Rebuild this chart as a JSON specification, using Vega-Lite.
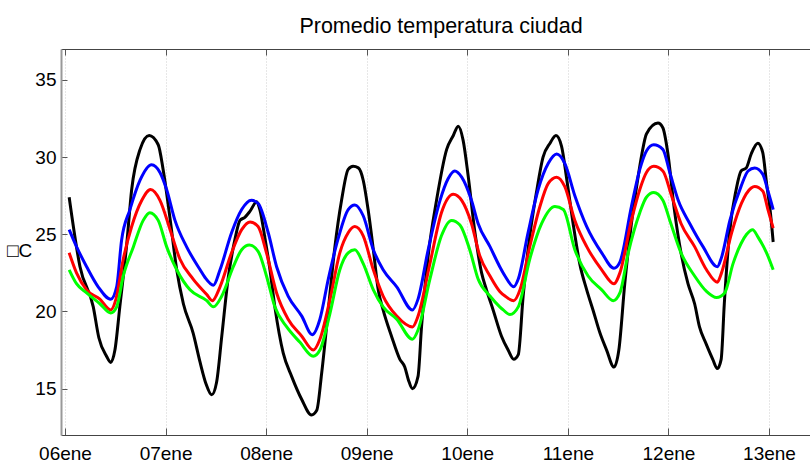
{
"$schema": "https://vega.github.io/schema/vega-lite/v6.json",
"width": 749, "height": 386,
"autosize": "none",
"padding": {"left": 61, "top": 49, "right": 0, "bottom": 28},
"background": "white",
"config": {"font": "Liberation Sans", "view": {"stroke": null}},
"title": {"text": "Promedio temperatura ciudad", "fontSize": 21.5, "fontWeight": "normal", "font": "Liberation Sans", "color": "#000", "anchor": "middle", "dx": 5.5, "offset": -6, "baseline": "alphabetic"},
"data": {"values": [
{"serie":"negro","fecha":"2014-01-06T01:00Z","temp":27.4},{"serie":"negro","fecha":"2014-01-06T03:35Z","temp":22.9},{"serie":"negro","fecha":"2014-01-06T06:45Z","temp":20.3},{"serie":"negro","fecha":"2014-01-06T08:05Z","temp":18.3},{"serie":"negro","fecha":"2014-01-06T09:55Z","temp":17.1},{"serie":"negro","fecha":"2014-01-06T10:55Z","temp":16.7},{"serie":"negro","fecha":"2014-01-06T11:55Z","temp":17.5},{"serie":"negro","fecha":"2014-01-06T13:05Z","temp":20.3},{"serie":"negro","fecha":"2014-01-06T14:45Z","temp":24.4},{"serie":"negro","fecha":"2014-01-06T15:55Z","temp":27.9},{"serie":"negro","fecha":"2014-01-06T17:55Z","temp":30.5},{"serie":"negro","fecha":"2014-01-06T20:05Z","temp":31.4},{"serie":"negro","fecha":"2014-01-06T22:15Z","temp":30.8},{"serie":"negro","fecha":"2014-01-06T23:25Z","temp":29.2},
{"serie":"negro","fecha":"2014-01-07T01:05Z","temp":26.0},{"serie":"negro","fecha":"2014-01-07T02:40Z","temp":22.7},{"serie":"negro","fecha":"2014-01-07T04:15Z","temp":20.5},{"serie":"negro","fecha":"2014-01-07T06:35Z","temp":18.6},{"serie":"negro","fecha":"2014-01-07T08:15Z","temp":16.7},{"serie":"negro","fecha":"2014-01-07T09:40Z","temp":15.3},{"serie":"negro","fecha":"2014-01-07T11:00Z","temp":14.6},{"serie":"negro","fecha":"2014-01-07T12:10Z","temp":15.4},{"serie":"negro","fecha":"2014-01-07T13:25Z","temp":18.4},{"serie":"negro","fecha":"2014-01-07T14:55Z","temp":22.1},{"serie":"negro","fecha":"2014-01-07T16:35Z","temp":24.7},{"serie":"negro","fecha":"2014-01-07T17:45Z","temp":25.9},{"serie":"negro","fecha":"2014-01-07T18:55Z","temp":26.1},{"serie":"negro","fecha":"2014-01-07T20:10Z","temp":26.5},{"serie":"negro","fecha":"2014-01-07T21:45Z","temp":27.1},{"serie":"negro","fecha":"2014-01-07T22:30Z","temp":26.6},{"serie":"negro","fecha":"2014-01-07T23:45Z","temp":24.7},
{"serie":"negro","fecha":"2014-01-08T00:55Z","temp":22.7},{"serie":"negro","fecha":"2014-01-08T02:05Z","temp":20.3},{"serie":"negro","fecha":"2014-01-08T04:05Z","temp":17.3},{"serie":"negro","fecha":"2014-01-08T06:05Z","temp":15.8},{"serie":"negro","fecha":"2014-01-08T08:30Z","temp":14.3},{"serie":"negro","fecha":"2014-01-08T10:50Z","temp":13.3},{"serie":"negro","fecha":"2014-01-08T12:05Z","temp":13.6},{"serie":"negro","fecha":"2014-01-08T13:15Z","temp":16.0},{"serie":"negro","fecha":"2014-01-08T14:50Z","temp":20.1},{"serie":"negro","fecha":"2014-01-08T16:25Z","temp":24.2},{"serie":"negro","fecha":"2014-01-08T18:00Z","temp":27.2},{"serie":"negro","fecha":"2014-01-08T19:35Z","temp":29.2},{"serie":"negro","fecha":"2014-01-08T20:45Z","temp":29.4},{"serie":"negro","fecha":"2014-01-08T22:00Z","temp":29.3},{"serie":"negro","fecha":"2014-01-08T23:10Z","temp":28.5},
{"serie":"negro","fecha":"2014-01-09T00:20Z","temp":26.6},{"serie":"negro","fecha":"2014-01-09T01:35Z","temp":24.0},{"serie":"negro","fecha":"2014-01-09T02:45Z","temp":21.4},{"serie":"negro","fecha":"2014-01-09T03:55Z","temp":20.1},{"serie":"negro","fecha":"2014-01-09T05:55Z","temp":18.4},{"serie":"negro","fecha":"2014-01-09T07:55Z","temp":16.9},{"serie":"negro","fecha":"2014-01-09T09:05Z","temp":16.4},{"serie":"negro","fecha":"2014-01-09T09:55Z","temp":15.6},{"serie":"negro","fecha":"2014-01-09T10:55Z","temp":15.0},{"serie":"negro","fecha":"2014-01-09T12:15Z","temp":15.8},{"serie":"negro","fecha":"2014-01-09T13:05Z","temp":19.0},{"serie":"negro","fecha":"2014-01-09T14:40Z","temp":23.6},{"serie":"negro","fecha":"2014-01-09T16:40Z","temp":27.2},{"serie":"negro","fecha":"2014-01-09T19:05Z","temp":30.5},{"serie":"negro","fecha":"2014-01-09T20:40Z","temp":31.4},{"serie":"negro","fecha":"2014-01-09T21:50Z","temp":32.0},{"serie":"negro","fecha":"2014-01-09T23:00Z","temp":31.1},
{"serie":"negro","fecha":"2014-01-10T00:15Z","temp":28.7},{"serie":"negro","fecha":"2014-01-10T01:50Z","temp":25.1},{"serie":"negro","fecha":"2014-01-10T03:25Z","temp":22.5},{"serie":"negro","fecha":"2014-01-10T04:35Z","temp":21.4},{"serie":"negro","fecha":"2014-01-10T06:10Z","temp":20.1},{"serie":"negro","fecha":"2014-01-10T08:10Z","temp":18.4},{"serie":"negro","fecha":"2014-01-10T09:45Z","temp":17.5},{"serie":"negro","fecha":"2014-01-10T11:05Z","temp":16.9},{"serie":"negro","fecha":"2014-01-10T12:10Z","temp":17.2},{"serie":"negro","fecha":"2014-01-10T13:20Z","temp":21.0},{"serie":"negro","fecha":"2014-01-10T14:55Z","temp":24.9},{"serie":"negro","fecha":"2014-01-10T16:30Z","temp":27.7},{"serie":"negro","fecha":"2014-01-10T18:05Z","temp":30.0},{"serie":"negro","fecha":"2014-01-10T19:45Z","temp":30.9},{"serie":"negro","fecha":"2014-01-10T21:10Z","temp":31.4},{"serie":"negro","fecha":"2014-01-10T22:30Z","temp":30.7},{"serie":"negro","fecha":"2014-01-10T23:40Z","temp":28.7},
{"serie":"negro","fecha":"2014-01-11T01:15Z","temp":25.7},{"serie":"negro","fecha":"2014-01-11T02:50Z","temp":23.1},{"serie":"negro","fecha":"2014-01-11T04:30Z","temp":21.4},{"serie":"negro","fecha":"2014-01-11T06:00Z","temp":20.1},{"serie":"negro","fecha":"2014-01-11T07:40Z","temp":18.6},{"serie":"negro","fecha":"2014-01-11T09:15Z","temp":17.5},{"serie":"negro","fecha":"2014-01-11T11:00Z","temp":16.4},{"serie":"negro","fecha":"2014-01-11T12:10Z","temp":17.5},{"serie":"negro","fecha":"2014-01-11T13:35Z","temp":21.8},{"serie":"negro","fecha":"2014-01-11T15:10Z","temp":25.7},{"serie":"negro","fecha":"2014-01-11T16:45Z","temp":28.7},{"serie":"negro","fecha":"2014-01-11T17:40Z","temp":30.2},{"serie":"negro","fecha":"2014-01-11T18:45Z","temp":31.5},{"serie":"negro","fecha":"2014-01-11T21:30Z","temp":32.2},{"serie":"negro","fecha":"2014-01-11T22:40Z","temp":31.9},{"serie":"negro","fecha":"2014-01-11T23:50Z","temp":30.3},
{"serie":"negro","fecha":"2014-01-12T01:25Z","temp":26.6},{"serie":"negro","fecha":"2014-01-12T03:00Z","temp":23.8},{"serie":"negro","fecha":"2014-01-12T04:40Z","temp":21.8},{"serie":"negro","fecha":"2014-01-12T06:15Z","temp":20.5},{"serie":"negro","fecha":"2014-01-12T07:25Z","temp":19.0},{"serie":"negro","fecha":"2014-01-12T09:00Z","temp":17.9},{"serie":"negro","fecha":"2014-01-12T10:35Z","temp":16.9},{"serie":"negro","fecha":"2014-01-12T11:40Z","temp":16.3},{"serie":"negro","fecha":"2014-01-12T12:35Z","temp":16.9},{"serie":"negro","fecha":"2014-01-12T13:20Z","temp":20.5},{"serie":"negro","fecha":"2014-01-12T14:35Z","temp":25.1},{"serie":"negro","fecha":"2014-01-12T16:10Z","temp":27.9},{"serie":"negro","fecha":"2014-01-12T17:20Z","temp":29.1},{"serie":"negro","fecha":"2014-01-12T18:35Z","temp":29.3},{"serie":"negro","fecha":"2014-01-12T19:45Z","temp":30.2},{"serie":"negro","fecha":"2014-01-12T21:20Z","temp":30.9},{"serie":"negro","fecha":"2014-01-12T22:30Z","temp":30.3},{"serie":"negro","fecha":"2014-01-12T23:25Z","temp":28.3},
{"serie":"negro","fecha":"2014-01-13T00:20Z","temp":26.4},{"serie":"negro","fecha":"2014-01-13T01:00Z","temp":24.5},

{"serie":"azul","fecha":"2014-01-06T01:00Z","temp":25.3},{"serie":"azul","fecha":"2014-01-06T02:45Z","temp":24.2},{"serie":"azul","fecha":"2014-01-06T05:10Z","temp":22.9},{"serie":"azul","fecha":"2014-01-06T07:55Z","temp":21.6},{"serie":"azul","fecha":"2014-01-06T10:55Z","temp":20.8},{"serie":"azul","fecha":"2014-01-06T12:20Z","temp":21.6},{"serie":"azul","fecha":"2014-01-06T13:30Z","temp":24.6},{"serie":"azul","fecha":"2014-01-06T15:30Z","temp":26.6},{"serie":"azul","fecha":"2014-01-06T17:55Z","temp":28.5},{"serie":"azul","fecha":"2014-01-06T20:40Z","temp":29.5},{"serie":"azul","fecha":"2014-01-06T22:40Z","temp":29.0},
{"serie":"azul","fecha":"2014-01-07T00:15Z","temp":27.9},{"serie":"azul","fecha":"2014-01-07T02:15Z","temp":25.9},{"serie":"azul","fecha":"2014-01-07T05:00Z","temp":24.2},{"serie":"azul","fecha":"2014-01-07T08:15Z","temp":22.7},{"serie":"azul","fecha":"2014-01-07T09:25Z","temp":22.2},{"serie":"azul","fecha":"2014-01-07T11:25Z","temp":21.7},{"serie":"azul","fecha":"2014-01-07T13:00Z","temp":22.7},{"serie":"azul","fecha":"2014-01-07T15:45Z","temp":25.1},{"serie":"azul","fecha":"2014-01-07T18:10Z","temp":26.6},{"serie":"azul","fecha":"2014-01-07T20:30Z","temp":27.2},{"serie":"azul","fecha":"2014-01-07T22:05Z","temp":27.0},
{"serie":"azul","fecha":"2014-01-08T00:30Z","temp":25.1},{"serie":"azul","fecha":"2014-01-08T02:30Z","temp":22.9},{"serie":"azul","fecha":"2014-01-08T05:15Z","temp":21.0},{"serie":"azul","fecha":"2014-01-08T08:30Z","temp":19.7},{"serie":"azul","fecha":"2014-01-08T11:00Z","temp":18.5},{"serie":"azul","fecha":"2014-01-08T12:50Z","temp":19.5},{"serie":"azul","fecha":"2014-01-08T14:50Z","temp":22.1},{"serie":"azul","fecha":"2014-01-08T17:10Z","temp":24.7},{"serie":"azul","fecha":"2014-01-08T19:35Z","temp":26.6},{"serie":"azul","fecha":"2014-01-08T21:10Z","temp":26.9},{"serie":"azul","fecha":"2014-01-08T23:10Z","temp":26.2},
{"serie":"azul","fecha":"2014-01-09T01:35Z","temp":24.0},{"serie":"azul","fecha":"2014-01-09T03:55Z","temp":22.7},{"serie":"azul","fecha":"2014-01-09T07:10Z","temp":21.6},{"serie":"azul","fecha":"2014-01-09T10:55Z","temp":20.1},{"serie":"azul","fecha":"2014-01-09T12:15Z","temp":20.8},{"serie":"azul","fecha":"2014-01-09T14:40Z","temp":24.0},{"serie":"azul","fecha":"2014-01-09T17:30Z","temp":27.2},{"serie":"azul","fecha":"2014-01-09T19:25Z","temp":28.6},{"serie":"azul","fecha":"2014-01-09T21:00Z","temp":29.1},{"serie":"azul","fecha":"2014-01-09T22:40Z","temp":28.7},
{"serie":"azul","fecha":"2014-01-10T01:00Z","temp":27.2},{"serie":"azul","fecha":"2014-01-10T02:35Z","temp":25.7},{"serie":"azul","fecha":"2014-01-10T05:25Z","temp":24.2},{"serie":"azul","fecha":"2014-01-10T07:45Z","temp":22.9},{"serie":"azul","fecha":"2014-01-10T09:00Z","temp":22.3},{"serie":"azul","fecha":"2014-01-10T11:05Z","temp":21.6},{"serie":"azul","fecha":"2014-01-10T12:10Z","temp":22.1},{"serie":"azul","fecha":"2014-01-10T14:30Z","temp":25.1},{"serie":"azul","fecha":"2014-01-10T16:55Z","temp":27.9},{"serie":"azul","fecha":"2014-01-10T19:20Z","temp":29.6},{"serie":"azul","fecha":"2014-01-10T21:20Z","temp":30.2},{"serie":"azul","fecha":"2014-01-10T23:15Z","temp":29.6},
{"serie":"azul","fecha":"2014-01-11T01:40Z","temp":27.5},{"serie":"azul","fecha":"2014-01-11T04:30Z","temp":25.5},{"serie":"azul","fecha":"2014-01-11T08:05Z","temp":23.8},{"serie":"azul","fecha":"2014-01-11T11:00Z","temp":22.8},{"serie":"azul","fecha":"2014-01-11T12:25Z","temp":23.2},{"serie":"azul","fecha":"2014-01-11T15:10Z","temp":26.8},{"serie":"azul","fecha":"2014-01-11T17:10Z","temp":29.2},{"serie":"azul","fecha":"2014-01-11T18:45Z","temp":30.4},{"serie":"azul","fecha":"2014-01-11T20:30Z","temp":30.8},{"serie":"azul","fecha":"2014-01-11T22:40Z","temp":30.5},
{"serie":"azul","fecha":"2014-01-12T00:20Z","temp":29.0},{"serie":"azul","fecha":"2014-01-12T02:20Z","temp":27.2},{"serie":"azul","fecha":"2014-01-12T05:05Z","temp":25.7},{"serie":"azul","fecha":"2014-01-12T08:15Z","temp":24.2},{"serie":"azul","fecha":"2014-01-12T11:40Z","temp":22.9},{"serie":"azul","fecha":"2014-01-12T12:40Z","temp":23.5},{"serie":"azul","fecha":"2014-01-12T14:40Z","temp":25.9},{"serie":"azul","fecha":"2014-01-12T17:20Z","temp":28.1},{"serie":"azul","fecha":"2014-01-12T19:00Z","temp":29.1},{"serie":"azul","fecha":"2014-01-12T20:35Z","temp":29.3},{"serie":"azul","fecha":"2014-01-12T22:30Z","temp":28.9},{"serie":"azul","fecha":"2014-01-12T23:45Z","temp":27.8},
{"serie":"azul","fecha":"2014-01-13T01:00Z","temp":26.6},

{"serie":"rojo","fecha":"2014-01-06T01:00Z","temp":23.8},{"serie":"rojo","fecha":"2014-01-06T02:45Z","temp":22.5},{"serie":"rojo","fecha":"2014-01-06T05:10Z","temp":21.4},{"serie":"rojo","fecha":"2014-01-06T08:20Z","temp":20.8},{"serie":"rojo","fecha":"2014-01-06T10:55Z","temp":20.1},{"serie":"rojo","fecha":"2014-01-06T12:10Z","temp":20.8},{"serie":"rojo","fecha":"2014-01-06T13:55Z","temp":23.4},{"serie":"rojo","fecha":"2014-01-06T15:55Z","temp":25.5},{"serie":"rojo","fecha":"2014-01-06T18:20Z","temp":27.2},{"serie":"rojo","fecha":"2014-01-06T20:25Z","temp":27.9},{"serie":"rojo","fecha":"2014-01-06T22:40Z","temp":27.2},
{"serie":"rojo","fecha":"2014-01-07T01:05Z","temp":25.3},{"serie":"rojo","fecha":"2014-01-07T03:25Z","temp":23.4},{"serie":"rojo","fecha":"2014-01-07T06:35Z","temp":22.1},{"serie":"rojo","fecha":"2014-01-07T09:50Z","temp":21.1},{"serie":"rojo","fecha":"2014-01-07T11:10Z","temp":20.7},{"serie":"rojo","fecha":"2014-01-07T13:00Z","temp":21.6},{"serie":"rojo","fecha":"2014-01-07T15:45Z","temp":23.8},{"serie":"rojo","fecha":"2014-01-07T18:10Z","temp":25.3},{"serie":"rojo","fecha":"2014-01-07T20:10Z","temp":25.8},{"serie":"rojo","fecha":"2014-01-07T22:05Z","temp":25.5},
{"serie":"rojo","fecha":"2014-01-08T00:05Z","temp":23.8},{"serie":"rojo","fecha":"2014-01-08T02:30Z","temp":21.2},{"serie":"rojo","fecha":"2014-01-08T05:15Z","temp":19.5},{"serie":"rojo","fecha":"2014-01-08T08:30Z","temp":18.4},{"serie":"rojo","fecha":"2014-01-08T11:15Z","temp":17.5},{"serie":"rojo","fecha":"2014-01-08T12:50Z","temp":18.2},{"serie":"rojo","fecha":"2014-01-08T15:15Z","temp":20.8},{"serie":"rojo","fecha":"2014-01-08T17:35Z","temp":23.8},{"serie":"rojo","fecha":"2014-01-08T19:35Z","temp":25.1},{"serie":"rojo","fecha":"2014-01-08T21:10Z","temp":25.5},{"serie":"rojo","fecha":"2014-01-08T23:10Z","temp":24.9},
{"serie":"rojo","fecha":"2014-01-09T01:35Z","temp":22.7},{"serie":"rojo","fecha":"2014-01-09T03:55Z","temp":21.0},{"serie":"rojo","fecha":"2014-01-09T07:10Z","temp":19.7},{"serie":"rojo","fecha":"2014-01-09T10:55Z","temp":19.0},{"serie":"rojo","fecha":"2014-01-09T12:15Z","temp":19.7},{"serie":"rojo","fecha":"2014-01-09T15:05Z","temp":23.1},{"serie":"rojo","fecha":"2014-01-09T17:50Z","temp":26.4},{"serie":"rojo","fecha":"2014-01-09T20:40Z","temp":27.6},{"serie":"rojo","fecha":"2014-01-09T22:40Z","temp":27.2},
{"serie":"rojo","fecha":"2014-01-10T01:00Z","temp":25.7},{"serie":"rojo","fecha":"2014-01-10T03:00Z","temp":23.6},{"serie":"rojo","fecha":"2014-01-10T05:25Z","temp":22.3},{"serie":"rojo","fecha":"2014-01-10T07:45Z","temp":21.3},{"serie":"rojo","fecha":"2014-01-10T09:00Z","temp":21.0},{"serie":"rojo","fecha":"2014-01-10T11:05Z","temp":20.7},{"serie":"rojo","fecha":"2014-01-10T12:35Z","temp":21.4},{"serie":"rojo","fecha":"2014-01-10T14:55Z","temp":24.2},{"serie":"rojo","fecha":"2014-01-10T17:20Z","temp":26.8},{"serie":"rojo","fecha":"2014-01-10T19:20Z","temp":28.3},{"serie":"rojo","fecha":"2014-01-10T21:20Z","temp":28.7},{"serie":"rojo","fecha":"2014-01-10T23:15Z","temp":28.1},
{"serie":"rojo","fecha":"2014-01-11T01:40Z","temp":25.9},{"serie":"rojo","fecha":"2014-01-11T04:30Z","temp":24.2},{"serie":"rojo","fecha":"2014-01-11T08:05Z","temp":22.7},{"serie":"rojo","fecha":"2014-01-11T11:00Z","temp":21.8},{"serie":"rojo","fecha":"2014-01-11T12:25Z","temp":22.5},{"serie":"rojo","fecha":"2014-01-11T15:10Z","temp":25.9},{"serie":"rojo","fecha":"2014-01-11T17:10Z","temp":27.9},{"serie":"rojo","fecha":"2014-01-11T18:45Z","temp":29.0},{"serie":"rojo","fecha":"2014-01-11T20:30Z","temp":29.4},{"serie":"rojo","fecha":"2014-01-11T22:40Z","temp":29.1},
{"serie":"rojo","fecha":"2014-01-12T00:45Z","temp":27.5},{"serie":"rojo","fecha":"2014-01-12T03:00Z","temp":25.7},{"serie":"rojo","fecha":"2014-01-12T06:15Z","temp":24.2},{"serie":"rojo","fecha":"2014-01-12T09:05Z","temp":22.7},{"serie":"rojo","fecha":"2014-01-12T11:40Z","temp":21.9},{"serie":"rojo","fecha":"2014-01-12T12:40Z","temp":22.5},{"serie":"rojo","fecha":"2014-01-12T15:05Z","temp":25.1},{"serie":"rojo","fecha":"2014-01-12T17:25Z","temp":27.0},{"serie":"rojo","fecha":"2014-01-12T19:45Z","temp":28.0},{"serie":"rojo","fecha":"2014-01-12T20:35Z","temp":28.1},{"serie":"rojo","fecha":"2014-01-12T22:30Z","temp":27.8},{"serie":"rojo","fecha":"2014-01-12T23:45Z","temp":26.6},
{"serie":"rojo","fecha":"2014-01-13T01:00Z","temp":25.4},

{"serie":"verde","fecha":"2014-01-06T01:00Z","temp":22.7},{"serie":"verde","fecha":"2014-01-06T02:45Z","temp":21.8},{"serie":"verde","fecha":"2014-01-06T05:10Z","temp":21.2},{"serie":"verde","fecha":"2014-01-06T08:20Z","temp":20.5},{"serie":"verde","fecha":"2014-01-06T10:55Z","temp":19.9},{"serie":"verde","fecha":"2014-01-06T12:20Z","temp":20.3},{"serie":"verde","fecha":"2014-01-06T13:55Z","temp":22.3},{"serie":"verde","fecha":"2014-01-06T16:20Z","temp":24.2},{"serie":"verde","fecha":"2014-01-06T18:40Z","temp":25.9},{"serie":"verde","fecha":"2014-01-06T20:15Z","temp":26.4},{"serie":"verde","fecha":"2014-01-06T22:15Z","temp":25.9},
{"serie":"verde","fecha":"2014-01-07T00:15Z","temp":24.2},{"serie":"verde","fecha":"2014-01-07T02:40Z","temp":22.7},{"serie":"verde","fecha":"2014-01-07T05:50Z","temp":21.4},{"serie":"verde","fecha":"2014-01-07T09:50Z","temp":20.7},{"serie":"verde","fecha":"2014-01-07T11:25Z","temp":20.3},{"serie":"verde","fecha":"2014-01-07T13:25Z","temp":21.0},{"serie":"verde","fecha":"2014-01-07T16:10Z","temp":22.9},{"serie":"verde","fecha":"2014-01-07T18:10Z","temp":24.0},{"serie":"verde","fecha":"2014-01-07T20:00Z","temp":24.3},{"serie":"verde","fecha":"2014-01-07T22:05Z","temp":23.9},
{"serie":"verde","fecha":"2014-01-08T00:05Z","temp":22.3},{"serie":"verde","fecha":"2014-01-08T02:05Z","temp":20.3},{"serie":"verde","fecha":"2014-01-08T04:55Z","temp":19.0},{"serie":"verde","fecha":"2014-01-08T08:05Z","temp":18.0},{"serie":"verde","fecha":"2014-01-08T11:15Z","temp":17.1},{"serie":"verde","fecha":"2014-01-08T12:50Z","temp":17.5},{"serie":"verde","fecha":"2014-01-08T15:15Z","temp":19.9},{"serie":"verde","fecha":"2014-01-08T17:35Z","temp":22.7},{"serie":"verde","fecha":"2014-01-08T19:35Z","temp":23.8},{"serie":"verde","fecha":"2014-01-08T21:10Z","temp":24.0},{"serie":"verde","fecha":"2014-01-08T23:10Z","temp":23.1},
{"serie":"verde","fecha":"2014-01-09T01:35Z","temp":21.4},{"serie":"verde","fecha":"2014-01-09T03:55Z","temp":20.3},{"serie":"verde","fecha":"2014-01-09T07:10Z","temp":19.5},{"serie":"verde","fecha":"2014-01-09T10:55Z","temp":18.2},{"serie":"verde","fecha":"2014-01-09T12:15Z","temp":18.8},{"serie":"verde","fecha":"2014-01-09T15:05Z","temp":22.1},{"serie":"verde","fecha":"2014-01-09T17:50Z","temp":24.9},{"serie":"verde","fecha":"2014-01-09T20:15Z","temp":25.9},{"serie":"verde","fecha":"2014-01-09T22:15Z","temp":25.6},
{"serie":"verde","fecha":"2014-01-10T00:35Z","temp":24.0},{"serie":"verde","fecha":"2014-01-10T02:35Z","temp":22.1},{"serie":"verde","fecha":"2014-01-10T05:25Z","temp":21.0},{"serie":"verde","fecha":"2014-01-10T07:45Z","temp":20.3},{"serie":"verde","fecha":"2014-01-10T08:35Z","temp":20.1},{"serie":"verde","fecha":"2014-01-10T10:10Z","temp":19.8},{"serie":"verde","fecha":"2014-01-10T12:10Z","temp":20.3},{"serie":"verde","fecha":"2014-01-10T14:55Z","temp":23.4},{"serie":"verde","fecha":"2014-01-10T17:45Z","temp":25.7},{"serie":"verde","fecha":"2014-01-10T20:55Z","temp":26.8},{"serie":"verde","fecha":"2014-01-10T22:55Z","temp":26.6},
{"serie":"verde","fecha":"2014-01-11T01:40Z","temp":24.0},{"serie":"verde","fecha":"2014-01-11T04:50Z","temp":22.3},{"serie":"verde","fecha":"2014-01-11T08:05Z","temp":21.4},{"serie":"verde","fecha":"2014-01-11T10:50Z","temp":20.7},{"serie":"verde","fecha":"2014-01-11T12:25Z","temp":21.2},{"serie":"verde","fecha":"2014-01-11T14:25Z","temp":23.8},{"serie":"verde","fecha":"2014-01-11T17:10Z","temp":26.4},{"serie":"verde","fecha":"2014-01-11T18:45Z","temp":27.4},{"serie":"verde","fecha":"2014-01-11T20:30Z","temp":27.7},{"serie":"verde","fecha":"2014-01-11T22:40Z","temp":27.2},
{"serie":"verde","fecha":"2014-01-12T00:20Z","temp":25.9},{"serie":"verde","fecha":"2014-01-12T03:00Z","temp":23.8},{"serie":"verde","fecha":"2014-01-12T06:15Z","temp":22.3},{"serie":"verde","fecha":"2014-01-12T09:05Z","temp":21.3},{"serie":"verde","fecha":"2014-01-12T11:30Z","temp":20.9},{"serie":"verde","fecha":"2014-01-12T13:25Z","temp":21.2},{"serie":"verde","fecha":"2014-01-12T15:25Z","temp":23.1},{"serie":"verde","fecha":"2014-01-12T17:20Z","temp":24.4},{"serie":"verde","fecha":"2014-01-12T18:40Z","temp":25.0},{"serie":"verde","fecha":"2014-01-12T20:05Z","temp":25.3},{"serie":"verde","fecha":"2014-01-12T21:25Z","temp":24.8},{"serie":"verde","fecha":"2014-01-12T23:25Z","temp":23.8},
{"serie":"verde","fecha":"2014-01-13T01:00Z","temp":22.7}
]},
"layer": [
{
"mark": {"type": "line", "strokeWidth": 3, "clip": true, "interpolate": "monotone"},
"encoding": {
"x": {"field": "fecha", "type": "temporal",
"scale": {"type": "utc", "domain": [{"year": 2014, "month": 1, "date": 5, "hours": 23, "minutes": 3, "utc": true}, {"year": 2014, "month": 1, "date": 13, "hours": 9, "minutes": 47, "utc": true}]},
"axis": {"orient": "bottom", "title": null, "grid": true, "gridColor": "#cfcfcf", "gridDash": [1, 2], "tickSize": -7, "tickColor": "#555", "domainColor": "#444", "labelFontSize": 19, "labelColor": "#000", "labelPadding": 16, "labelExpr": "utcFormat(datum.value, '%d') + 'ene'", "tickCount": {"interval": "day", "step": 1}, "labelFlush": false, "labelOverlap": false}},
"y": {"field": "temp", "type": "quantitative",
"scale": {"domain": [12, 37], "nice": false, "zero": false},
"axis": {"orient": "left", "values": [15, 20, 25, 30, 35], "grid": false, "tickSize": -6, "tickColor": "#555", "domainColor": "#999", "domainWidth": 2, "labelFontSize": 19, "labelColor": "#000", "labelPadding": 11, "title": "□C", "titleAngle": 0, "titleFontSize": 19, "titleFontWeight": "normal", "titleColor": "#000", "titleX": -42, "titleY": 201, "titleAlign": "center", "titleBaseline": "middle"}},
"color": {"field": "serie", "type": "nominal", "scale": {"domain": ["negro", "azul", "rojo", "verde"], "range": ["#000000", "#0000ff", "#ff0000", "#00ff00"]}, "legend": null}
}
},
{
"mark": {"type": "line", "opacity": 0},
"encoding": {
"x": {"field": "fecha", "type": "temporal",
"axis": {"orient": "top", "title": null, "labels": false, "grid": false, "tickSize": -6, "tickColor": "#555", "domainColor": "#444", "tickCount": {"interval": "day", "step": 1}}},
"y": {"field": "temp", "type": "quantitative"},
"detail": {"field": "serie"}
}
}
],
"resolve": {"axis": {"x": "independent"}}
}
